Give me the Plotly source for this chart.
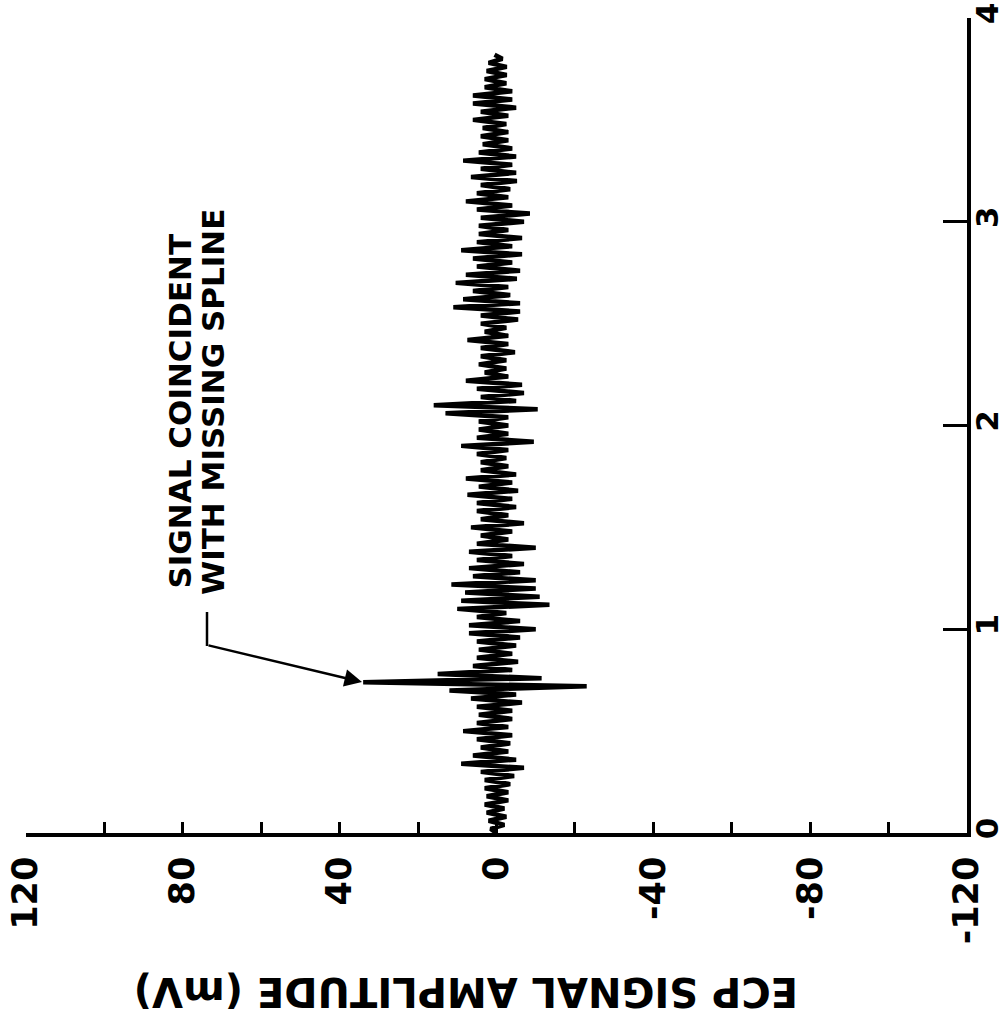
import plotly.graph_objects as go

# ---- data -------------------------------------------------------------
SAMPLE_INTERVAL = 0.02  # time between successive readings
ecp_amplitude_mv = [
    0, 1.5, -2, 2, -2.5, 2.5, -2, 3, -3, 2.5,
    -3, 3, -3.5, 3, -4.5, 4, -7, 9, -5, 6,
    -3, 4, -3.5, 5, -4, 8.5, -3, 5, -4, 4.5,
    -4, 5, -6.5, 6.5, -5, 12, -23, 34, -11.5, 15,
    -4, 6, -5.5, 5, -4, 4.5, -5, 5, -6, 7,
    -10, 7, -6, 5, -2.5, 10, -13.5, 9, -11, 8,
    -10, 11.5, -10, 6, -6, 7, -7, 5, -4, 7,
    -10, 5, -3, 4, -4, 6.5, -7, 4, -3, 5,
    -5, 5, -4, 7.4, -5.5, 4.5, -4, 7.8, -5, 4,
    -3, 4, -2.5, 5, -3, 9, -9.5, 5, -3, 4.5,
    -3, 4.5, -3, 13, -10.5, 16, -5, 4, -7, 5,
    -6.5, 7.8, -3, 3, -2.5, 4.5, -2.5, 4, -4.7, 4,
    -3, 7.4, -3, 3, -2.5, 4, -5.5, 4, -6, 11,
    -6, 8.5, -3.5, 6, -3, 10.4, -5.2, 7.8, -6, 5,
    -4, 6, -6.5, 9, -4, 5, -6.5, 4.5, -3, 4.5,
    -7, 4, -8.5, 5, -4, 7.8, -3, 5, -3.5, 4,
    -5.2, 6.5, -5, 4, -4, 8.5, -5, 4.5, -4, 3.5,
    -3, 4, -3, 3.5, -2.5, 6, -3, 4, -5, 6,
    -4, 6, -4, 3, -2.5, 3, -2.6, 2.5, -2.6, 2,
    -1.5, 0.5,
]
time_values = [round(i * SAMPLE_INTERVAL, 4) for i in range(len(ecp_amplitude_mv))]

amp_tick_vals = [120, 100, 80, 60, 40, 20, 0, -20, -40, -60, -80, -100, -120]
amp_tick_text = ["120", "", "80", "", "40", "", "0", "", "-40", "", "-80", "", "-120"]
time_tick_vals = [0, 1, 2, 3, 4]
time_tick_text = ["0", "1", "2", "3", "4"]

axis_title = "ECP SIGNAL AMPLITUDE (mV)"
note_line1 = "SIGNAL COINCIDENT"
note_line2 = "WITH MISSING SPLINE"

# ---- figure -----------------------------------------------------------
W, H = 1008, 1033
ML, MR, MT, MB = 26, 41, 18, 200
PW, PH = W - ML - MR, H - MT - MB


def px(xpix):
    return (xpix - ML) / PW


def py(ypix):
    return (H - MB - ypix) / PH


FONT = "DejaVu Sans"

fig = go.Figure()
fig.add_trace(go.Scatter(
    x=ecp_amplitude_mv, y=time_values, mode="lines",
    line=dict(color="black", width=4.5),
    hoverinfo="skip", showlegend=False,
))

fig.update_layout(
    width=W, height=H,
    margin=dict(l=ML, r=MR, t=MT, b=MB, pad=0),
    paper_bgcolor="white", plot_bgcolor="white",
    showlegend=False,
    xaxis=dict(
        range=[120, -120], tickmode="array", tickvals=amp_tick_vals, ticktext=amp_tick_text,
        ticks="inside", ticklen=11, tickwidth=3, tickcolor="black",
        showline=True, linewidth=3.5, linecolor="black",
        showgrid=False, zeroline=False, tickangle=-90,
        tickfont=dict(family=FONT, size=35, color="black", weight="bold"),
        ticklabelstandoff=6, automargin=False,
    ),
    yaxis=dict(
        range=[0, 4], side="right", tickmode="array", tickvals=time_tick_vals, ticktext=time_tick_text,
        ticks="inside", ticklen=24, tickwidth=3, tickcolor="black",
        showline=True, linewidth=3.5, linecolor="black",
        showgrid=False, zeroline=False, tickangle=-90,
        tickfont=dict(family=FONT, size=31, color="black", weight="bold"),
        ticklabelstandoff=-10, automargin=False,
    ),
)

fig.add_annotation(
    text=axis_title, textangle=180, xref="paper", yref="paper",
    x=px(466), y=py(992), xanchor="center", yanchor="middle", showarrow=False,
    font=dict(family=FONT, size=40, color="black", weight="bold"),
)
fig.add_annotation(
    text=note_line1, textangle=-90, xref="paper", yref="paper",
    x=px(179), y=py(591), xanchor="center", yanchor="bottom", showarrow=False,
    font=dict(family=FONT, size=31, color="black", weight="bold"),
)
fig.add_annotation(
    text=note_line2, textangle=-90, xref="paper", yref="paper",
    x=px(213), y=py(597), xanchor="center", yanchor="bottom", showarrow=False,
    font=dict(family=FONT, size=31, color="black", weight="bold"),
)
# leader: short vertical stem, then arrow to the spike
fig.add_shape(type="line", xref="paper", yref="paper",
              x0=px(207), y0=py(612), x1=px(207), y1=py(646),
              line=dict(color="black", width=2.5))
fig.add_annotation(
    text="", xref="paper", yref="paper", x=px(362), y=py(682),
    ax=207 - 362, ay=645 - 682, axref="pixel", ayref="pixel",
    showarrow=True, arrowhead=2, arrowsize=1.4, arrowwidth=2.5, arrowcolor="black",
)

fig.write_html("out.html")
